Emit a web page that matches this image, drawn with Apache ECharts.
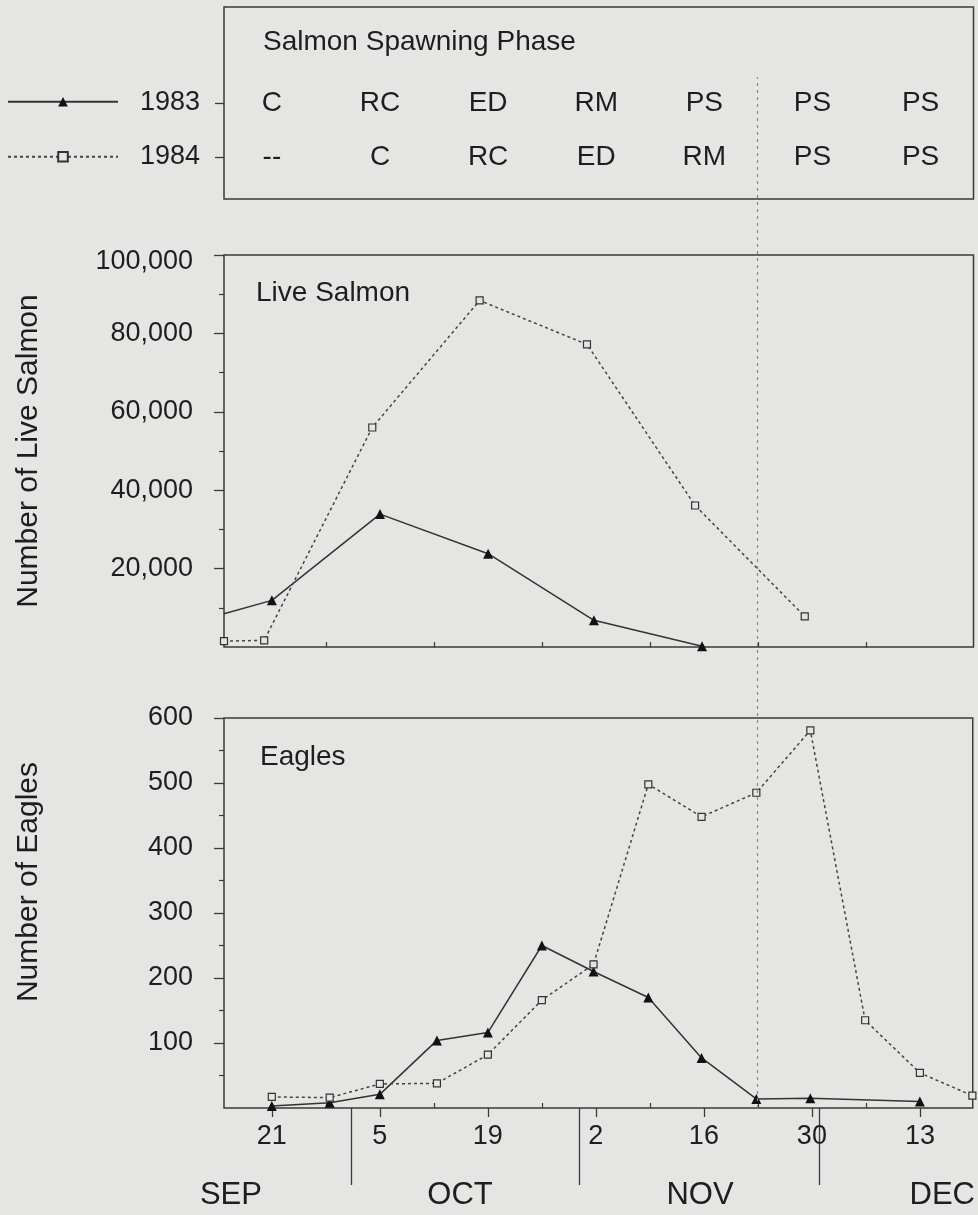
<!DOCTYPE html>
<html><head><meta charset="utf-8">
<script src="https://cdn.jsdelivr.net/npm/echarts/dist/echarts.min.js"></script>
<style>html,body{margin:0;padding:0;background:#e5e5e3}#c{width:978px;height:1215px}</style>
</head><body><div id="c"></div>
<script>
// x values: days after 21 September
const tickDays = [0, 14, 28, 42, 56, 70, 84];
const tickLabels = ['21', '5', '19', '2', '16', '30', '13'];
const minorTickDays = [7, 21, 35, 49, 63, 77];
const monthBreakDays = [10.3, 39.8, 71.0];
const monthLabelDays = [-5.3, 24.4, 55.5, 86.9];
const monthLabels = ['SEP', 'OCT', 'NOV', 'DEC'];

const rowYears = ['1984', '1983'];
const phaseDays = [0, 14, 28, 42, 56, 70, 84];
const phase1983 = ['C', 'RC', 'ED', 'RM', 'PS', 'PS', 'PS'];
const phase1984 = ['--', 'C', 'RC', 'ED', 'RM', 'PS', 'PS'];

const salmonTicks = [20000, 40000, 60000, 80000, 100000];
const salmonMinorTicks = [10000, 30000, 50000, 70000, 90000];
const eagleTicks = [100, 200, 300, 400, 500, 600];
const eagleMinorTicks = [50, 150, 250, 350, 450, 550];

const salmonDays1983 = [-6.2, 0, 14, 28, 41.7, 55.7];
const salmon1983 = [8500, 11900, 33900, 23800, 6800, 200];
const salmonDays1984 = [-6.2, -1, 13, 26.9, 40.8, 54.8, 69];
const salmon1984 = [1500, 1700, 56000, 88400, 77200, 36100, 7800];

const eagleDays1983 = [0, 7.5, 14, 21.4, 28, 35, 41.7, 48.8, 55.7, 62.8, 69.8, 84];
const eagles1983 = [3, 8, 21, 104, 116, 250, 210, 170, 77, 14, 15, 10];
const eagleDays1984 = [0, 7.5, 14, 21.4, 28, 35, 41.7, 48.8, 55.7, 62.8, 69.8, 76.9, 84, 90.8];
const eagles1984 = [17, 16, 37, 38, 82, 166, 221, 498, 448, 485, 581, 135, 54, 19];

const refLineDay = 62.9;

const X_MIN = -6.2, X_MAX = 90.85;
const FONT = "'Liberation Sans', Arial, Helvetica, sans-serif";
const INK = '#1e1e1e';
const LINE = '#3a3a3a';
const BG = '#e5e5e3';

function pairs(xs, ys) { return xs.map((x, i) => [x, ys[i]]); }
function hiddenX(gridIndex, extra) {
  return Object.assign({
    type: 'value', gridIndex: gridIndex, position: 'bottom', min: X_MIN, max: X_MAX,
    splitLine: {show: false}, axisLine: {show: false, onZero: false},
    axisTick: {show: false}, axisLabel: {show: false}
  }, extra || {});
}
function hiddenY(gridIndex) {
  return {type: 'value', gridIndex: gridIndex, min: 0, max: 1, show: false, splitLine: {show: false}, axisLine: {show: false, onZero: false}};
}
function minorY(gridIndex, min, max, values) {
  return {type: 'value', gridIndex: gridIndex, position: 'left', min: min, max: max,
    splitLine: {show: false}, axisLine: {show: false, onZero: false}, axisLabel: {show: false},
    axisTick: {show: true, length: 5, customValues: values, lineStyle: {color: LINE, width: 1.2}}};
}
const gridBase = {left: 224, right: 4.5, containLabel: false};
const framed = {show: true, backgroundColor: 'transparent', borderColor: LINE, borderWidth: 1.5};

const line83 = {
  type: 'line', name: '1983', symbol: 'triangle', symbolSize: 10,
  lineStyle: {color: '#333', width: 1.5, type: 'solid'},
  itemStyle: {color: '#111', borderWidth: 0}, z: 3
};
const line84 = {
  type: 'line', name: '1984', symbol: 'rect', symbolSize: 7,
  lineStyle: {color: '#444', width: 1.5, type: [3, 3]},
  itemStyle: {color: BG, borderColor: '#333', borderWidth: 1.2}, z: 3
};

const salmon83Data = pairs(salmonDays1983, salmon1983).map((p, i) => i === 0 ? {value: p, symbol: 'none'} : p);

const option = {
  backgroundColor: BG,
  animation: false,
  textStyle: {fontFamily: FONT, color: INK},
  title: [
    {text: 'Salmon Spawning Phase', left: 258, top: 21, textStyle: {fontFamily: FONT, fontSize: 28, fontWeight: 'normal', color: INK, lineHeight: 32}},
    {text: 'Live Salmon', left: 251, top: 272, textStyle: {fontFamily: FONT, fontSize: 28, fontWeight: 'normal', color: INK, lineHeight: 32}},
    {text: 'Eagles', left: 255, top: 736, textStyle: {fontFamily: FONT, fontSize: 28, fontWeight: 'normal', color: INK, lineHeight: 32}}
  ],
  legend: [
    {data: ['1983'], orient: 'vertical', left: 7, top: 97, padding: 0, itemWidth: 110, itemHeight: 12,
     formatter: () => '', textStyle: {fontSize: 10, lineHeight: 12}, selectedMode: false},
    {data: ['1984'], orient: 'vertical', left: 7, top: 151, padding: 0, itemWidth: 110, itemHeight: 12,
     formatter: () => '', textStyle: {fontSize: 10, lineHeight: 12}, selectedMode: false}
  ],
  grid: [
    Object.assign({top: 255, height: 392}, gridBase, framed),
    Object.assign({top: 718, height: 390}, gridBase, framed),
    Object.assign({top: 7, height: 192}, gridBase, framed),
    Object.assign({top: 76, height: 108}, gridBase, {show: false}),
    Object.assign({top: 77, height: 1031}, gridBase, {show: false})
  ],
  xAxis: [
    hiddenX(0, {axisTick: {show: true, inside: true, length: 5, customValues: minorTickDays, lineStyle: {color: LINE, width: 1.2}}}),
    hiddenX(1, {
      axisTick: {show: true, inside: false, length: 9, customValues: tickDays, lineStyle: {color: LINE, width: 1.3}},
      axisLabel: {show: true, customValues: tickDays, margin: 15, fontSize: 27, fontFamily: FONT, color: INK,
        formatter: v => { const i = tickDays.indexOf(v); return i >= 0 ? tickLabels[i] : ''; }}
    }),
    hiddenX(1, {axisTick: {show: true, inside: true, length: 5, customValues: minorTickDays, lineStyle: {color: LINE, width: 1.2}}}),
    hiddenX(1, {
      axisTick: {show: true, inside: false, length: 77, customValues: monthBreakDays, lineStyle: {color: LINE, width: 1.3}},
      axisLabel: {show: true, customValues: monthLabelDays, margin: 72, fontSize: 31, fontFamily: FONT, color: INK,
        formatter: v => { const i = monthLabelDays.indexOf(v); return i >= 0 ? monthLabels[i] : ''; }}
    }),
    hiddenX(2),
    hiddenX(3),
    hiddenX(4)
  ],
  yAxis: [
    {type: 'value', gridIndex: 0, position: 'left', min: 0, max: 100000,
     name: 'Number of Live Salmon', nameLocation: 'middle', nameGap: 180,
     nameTextStyle: {fontFamily: FONT, fontSize: 30, color: INK},
     axisLine: {show: false, onZero: false}, splitLine: {show: false},
     axisTick: {show: true, length: 10, customValues: salmonTicks, lineStyle: {color: LINE, width: 1.3}},
     axisLabel: {customValues: salmonTicks, margin: 31, fontSize: 27, fontFamily: FONT, color: INK,
       formatter: v => (v === 100000 ? '{top|' + v.toLocaleString('en-US') + '}' : v.toLocaleString('en-US')),
       rich: {top: {fontSize: 27, fontFamily: FONT, color: INK, padding: [14, 0, 0, 0]}}}},
    {type: 'value', gridIndex: 1, position: 'left', min: 0, max: 600,
     name: 'Number of Eagles', nameLocation: 'middle', nameGap: 180,
     nameTextStyle: {fontFamily: FONT, fontSize: 30, color: INK, padding: [0, 0, 0, 62]},
     axisLine: {show: false, onZero: false}, splitLine: {show: false},
     axisTick: {show: true, length: 10, customValues: eagleTicks, lineStyle: {color: LINE, width: 1.3}},
     axisLabel: {customValues: eagleTicks, margin: 31, fontSize: 27, fontFamily: FONT, color: INK,
       formatter: v => String(v)}},
    hiddenY(2),
    {type: 'category', gridIndex: 3, position: 'left', data: rowYears, axisLine: {show: false, onZero: false}, splitLine: {show: false},
     axisTick: {show: true, alignWithLabel: true, length: 9, lineStyle: {color: LINE, width: 1.3}},
     axisLabel: {margin: 24, fontSize: 27, fontFamily: FONT, color: INK}},
    hiddenY(4),
    minorY(0, 0, 100000, salmonMinorTicks),
    minorY(1, 0, 600, eagleMinorTicks)
  ],
  series: [
    Object.assign({}, line83, {xAxisIndex: 0, yAxisIndex: 0, data: salmon83Data}),
    Object.assign({}, line84, {xAxisIndex: 0, yAxisIndex: 0, data: pairs(salmonDays1984, salmon1984)}),
    Object.assign({}, line83, {xAxisIndex: 1, yAxisIndex: 1, data: pairs(eagleDays1983, eagles1983)}),
    Object.assign({}, line84, {xAxisIndex: 1, yAxisIndex: 1, data: pairs(eagleDays1984, eagles1984)}),
    {type: 'scatter', name: 'phase1983', xAxisIndex: 5, yAxisIndex: 3, symbolSize: 1,
     itemStyle: {color: 'transparent', opacity: 1},
     data: phaseDays.map((d) => [d, '1983']),
     label: {show: true, position: 'inside', fontSize: 28, fontFamily: FONT, color: INK,
       formatter: p => phase1983[p.dataIndex]}},
    {type: 'scatter', name: 'phase1984', xAxisIndex: 5, yAxisIndex: 3, symbolSize: 1,
     itemStyle: {color: 'transparent', opacity: 1},
     data: phaseDays.map((d) => [d, '1984']),
     label: {show: true, position: 'inside', fontSize: 28, fontFamily: FONT, color: INK,
       formatter: p => phase1984[p.dataIndex]}},
    {type: 'line', name: 'ref', xAxisIndex: 6, yAxisIndex: 4, data: [], silent: true,
     markLine: {silent: true, symbol: 'none', label: {show: false},
       lineStyle: {color: '#8a8a8a', type: [3, 4], width: 1.2},
       data: [{xAxis: refLineDay}]}}
  ]
};
const chart = echarts.init(document.getElementById('c'), null, {renderer: 'canvas'});
chart.setOption(option);
</script></body></html>
